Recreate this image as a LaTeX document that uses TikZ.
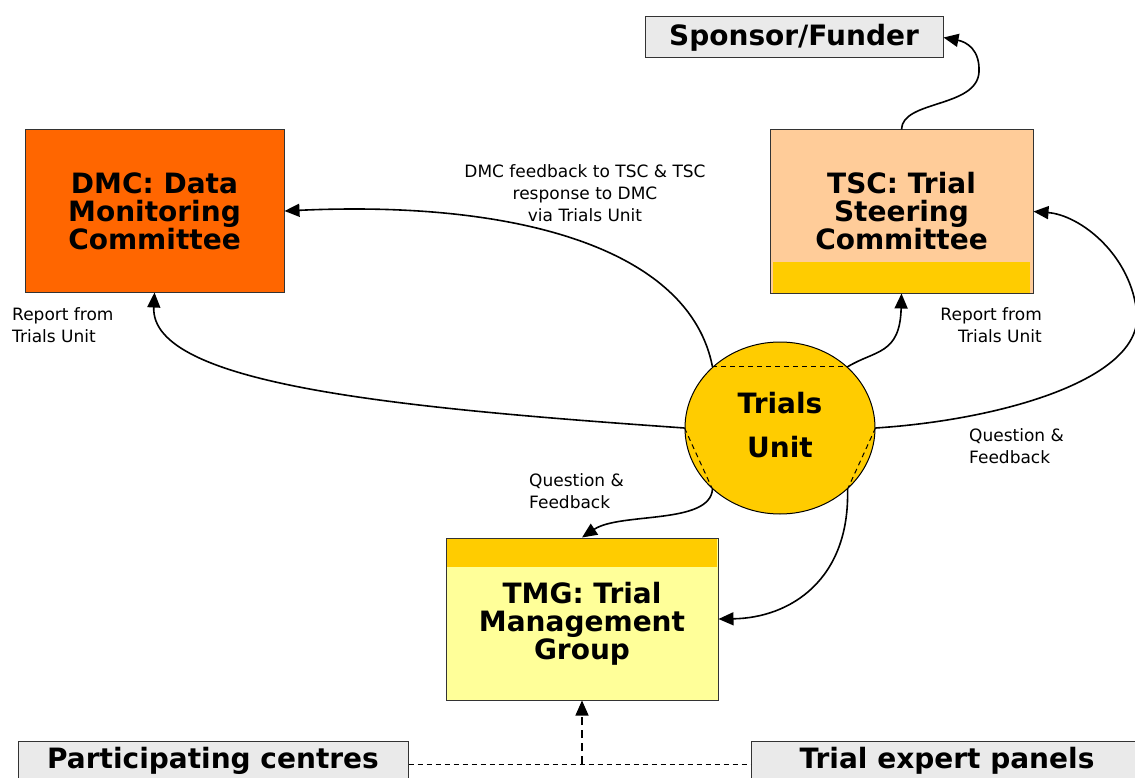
\documentclass[tikz,border=0pt]{standalone}
\usepackage{fontspec}
\setmainfont{DejaVu Sans}
\usetikzlibrary{arrows.meta,shapes.geometric,calc}
\definecolor{dmcorange}{HTML}{FF6600}
\definecolor{tscpeach}{HTML}{FFCC99}
\definecolor{tuyellow}{HTML}{FFCC00}
\definecolor{tmgyellow}{HTML}{FFFF99}
\definecolor{boxgray}{HTML}{EAEAEA}
\definecolor{edgegray}{HTML}{333333}
\begin{document}
\begin{tikzpicture}[x=1pt,y=-1pt,
  box/.style={draw=edgegray, line width=1pt, inner sep=0pt, align=center,
    font=\fontsize{28}{28}\selectfont\bfseries},
  conn/.style={line width=1.6pt, -{Triangle[length=15pt,width=13pt]}},
  lbl/.style={font=\fontsize{17}{22}\selectfont, inner sep=0pt},
  chord/.style={dash pattern=on 5pt off 4pt, line width=1pt},
]
\path[use as bounding box] (0,0) rectangle (1135,778);
\clip (0,0) rectangle (1135,778);

% boxes
\node[box, fill=boxgray, minimum width=298pt, minimum height=41pt] (sponsor) at (794,37.5) {Sponsor/Funder};
\node[box, fill=dmcorange, minimum width=259pt, minimum height=162pt] (dmc) at (154.5,211) {DMC: Data\\Monitoring\\Committee};
\node[box, fill=tscpeach, minimum width=263pt, minimum height=163pt] (tsc) at (901.5,211.5) {TSC: Trial\\Steering\\Committee};
\fill[tuyellow] ($(tsc.south west)+(3,-1)$) rectangle ($(tsc.south east)+(-4,-32)$);
\node[box, fill=tmgyellow, minimum width=272pt, minimum height=162pt] (tmg) at (582,619) {\rule{0pt}{31pt}TMG: Trial\\Management\\Group};
\fill[tuyellow] ($(tmg.north west)+(1,1)$) rectangle ($(tmg.north east)+(-2,29)$);

\node[ellipse, draw=black, line width=1pt, fill=tuyellow, minimum width=190pt, minimum height=172pt,
  inner sep=0pt, align=center, text depth=6pt, font=\fontsize{28}{44}\selectfont\bfseries] (tu) at (780,428) {Trials\\Unit};
\draw[chord] (tu.north west) -- (tu.north east);
\draw[chord] (tu.west) -- (tu.south west);
\draw[chord] (tu.east) -- (tu.south east);

\node[box, fill=boxgray, minimum width=390pt, minimum height=46pt, text height=20pt, text depth=12pt] (pc) at (213,764) {Participating centres};
\node[box, fill=boxgray, minimum width=392pt, minimum height=46pt, text height=20pt, text depth=12pt] (tep) at (947,764) {Trial expert panels};

% connectors
\draw[conn] (tu.west) .. controls (400,408) and (150,385) .. (dmc.south);
\draw[conn] (tu.north west) .. controls (690,250) and (520,200) .. (dmc.east);
\draw[conn] (tu.north east) .. controls (875,350) and (900,355) .. (tsc.south);
\coordinate (rt) at (1137,315);
\draw[conn] (tu.east) .. controls (1000,420) and (1140,380) .. (rt)
  .. controls (1132,255) and (1080,215) .. (tsc.east);
\coordinate (sp) at (979,72);
\draw[conn] (tsc.north) .. controls (902,100) and (977,108) .. (sp)
  .. controls (980,50) and (967,42) .. (sponsor.east);
\draw[conn] (tu.south west) .. controls (710,525) and (620,512) .. (tmg.north);
\draw[conn] (tu.south east) .. controls (850,580) and (790,618) .. (tmg.east);

\draw[line width=1pt, dash pattern=on 5pt off 4pt] (pc.east) -- (tep.west);
\coordinate (j) at (tmg.south |- pc.east);
\draw[line width=1.3pt, dash pattern=on 8pt off 5pt, -{Triangle[length=15pt,width=13pt]}] (j) -- (tmg.south);

% labels
\node[lbl, align=center] (l1) at (585,193) {DMC feedback to TSC \& TSC\\response to DMC\\via Trials Unit};
\node[lbl, align=left, anchor=west] (l2) at (12,325) {Report from\\Trials Unit};
\node[lbl, align=right, anchor=east] (l3) at (1042,325) {Report from\\Trials Unit};
\node[lbl, align=left, anchor=west] (l4) at (969,446) {Question \&\\Feedback};
\node[lbl, align=left, anchor=west] (l5) at (529,491) {Question \&\\Feedback};
\end{tikzpicture}
\end{document}
